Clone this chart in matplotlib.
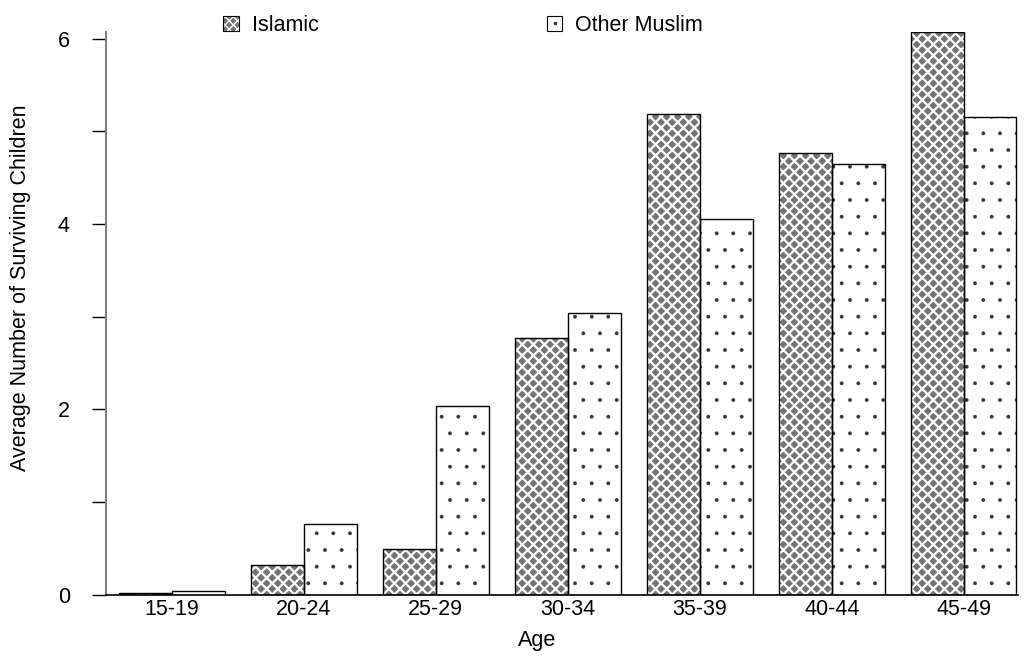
import matplotlib
matplotlib.use("Agg")
import matplotlib.pyplot as plt
from matplotlib.patches import Rectangle
from matplotlib.lines import Line2D
from matplotlib.legend_handler import HandlerTuple
import numpy as np

ages = ["15-19", "20-24", "25-29", "30-34", "35-39", "40-44", "45-49"]
islamic = [0.02, 0.32, 0.50, 2.77, 5.19, 4.77, 6.07]
other_muslim = [0.04, 0.77, 2.04, 3.04, 4.05, 4.65, 5.15]
series_names = ["Islamic", "Other Muslim"]
ytick_major = [0, 2, 4, 6]
ytick_minor = [1, 3, 5]

plt.rcParams['font.family'] = ['Liberation Sans', 'DejaVu Sans']

fig = plt.figure(figsize=(10.26, 6.6), dpi=100)
ax = fig.add_axes([0.1033, 0.0985, 0.8887, 0.853])

x = np.arange(len(ages))
w = 0.4
fs = 15.5

with plt.rc_context({'hatch.linewidth': 1.6}):
    ax.bar(x - w / 2, islamic, w, color='#747474', hatch='xxx',
           edgecolor='white', linewidth=0, zorder=2)
    h1 = Rectangle((0, 0), 1, 1, facecolor='#747474', hatch='xxxx', edgecolor='white', linewidth=0)
ax.bar(x - w / 2, islamic, w, fill=False, edgecolor='black', linewidth=1.0, zorder=3)

with plt.rc_context({'hatch.linewidth': 0.3}):
    ax.bar(x + w / 2, other_muslim, w, color='white', hatch='.',
           edgecolor='#333333', linewidth=0, zorder=2)
h2 = Rectangle((0, 0), 1, 1, facecolor='white', edgecolor='#333333', linewidth=0)
ax.bar(x + w / 2, other_muslim, w, fill=False, edgecolor='black', linewidth=1.0, zorder=3)

ax.set_xlim(-0.5, 6.41)
ax.set_ylim(0, 6.07)

ax.set_xticks(x)
ax.set_xticklabels(ages, fontsize=fs)
ax.tick_params(axis='x', length=0, pad=3)
ax.set_yticks(ytick_major)
ax.set_yticks(ytick_minor, minor=True)
ax.tick_params(axis='y', which='both', length=10, width=1.0, color='black', direction='out')
ax.tick_params(axis='y', which='major', labelsize=fs, pad=16)

for s in ['top', 'right']:
    ax.spines[s].set_visible(False)
ax.spines['left'].set_color('#808080')
ax.spines['left'].set_linewidth(1.5)
ax.spines['bottom'].set_color('black')
ax.spines['bottom'].set_linewidth(1.2)

ax.set_xlabel("Age", fontsize=fs)
ax.xaxis.set_label_coords(0.4726, -0.063)
ax.set_ylabel("Average Number of Surviving Children", fontsize=fs)
ax.yaxis.set_label_coords(-0.082, 0.545)

box = Rectangle((0, 0), 1, 1, fill=False, edgecolor='black', linewidth=0.8)
box2 = Rectangle((0, 0), 1, 1, fill=False, edgecolor='black', linewidth=0.8)
dot = Line2D([], [], marker='s', markersize=1.5, color='#333333', linestyle='none')
leg = fig.legend([(h1, box), (h2, dot, box2)], series_names, loc='upper left',
                 bbox_to_anchor=(0.203, 1.0),
                 handler_map={tuple: HandlerTuple(ndivide=1, pad=0)},
                 ncol=2, frameon=False, fontsize=fs, handlelength=0.72, handleheight=0.72,
                 handletextpad=0.6, columnspacing=10.6, borderaxespad=0.3)

fig.savefig("out.png", dpi=100)
